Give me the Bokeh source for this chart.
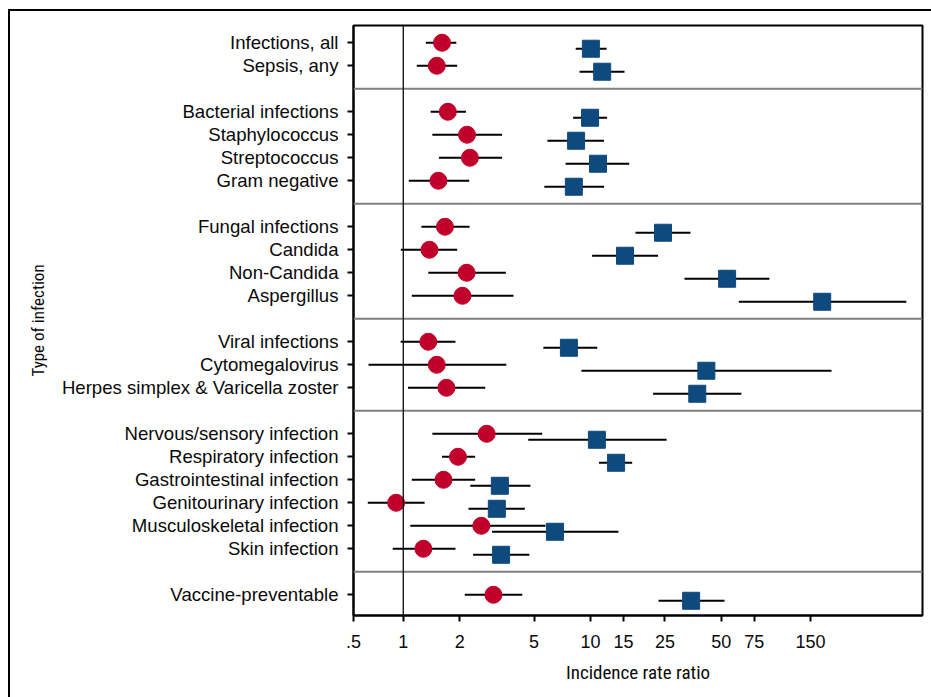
from bokeh.plotting import figure
from bokeh.models import Range1d, FixedTicker, Span
from bokeh.embed import file_html
from bokeh.resources import INLINE

# ---------------- data ----------------
groups = [
    ["Infections, all", "Sepsis, any"],
    ["Bacterial infections", "Staphylococcus", "Streptococcus", "Gram negative"],
    ["Fungal infections", "Candida", "Non-Candida", "Aspergillus"],
    ["Viral infections", "Cytomegalovirus", "Herpes simplex & Varicella zoster"],
    ["Nervous/sensory infection", "Respiratory infection", "Gastrointestinal infection",
     "Genitourinary infection", "Musculoskeletal infection", "Skin infection"],
    ["Vaccine-preventable"],
]

# red circles
circle_irr = [1.61, 1.51, 1.73, 2.19, 2.27, 1.54, 1.67, 1.38, 2.18, 2.07,
              1.36, 1.51, 1.70, 2.79, 1.96, 1.64, 0.916, 2.61, 1.28, 3.03]
circle_lo = [1.32, 1.18, 1.40, 1.43, 1.55, 1.07, 1.25, 0.97, 1.36, 1.11,
             0.968, 0.652, 1.06, 1.43, 1.61, 1.11, 0.646, 1.09, 0.878, 2.13]
circle_hi = [1.92, 1.94, 2.16, 3.37, 3.37, 2.25, 2.26, 1.94, 3.53, 3.88,
             1.90, 3.55, 2.74, 5.52, 2.42, 2.42, 1.30, 5.75, 1.90, 4.32]

# blue squares
square_irr = [10.05, 11.55, 9.95, 8.38, 10.97, 8.15, 24.4, 15.3, 53.7, 173,
              7.67, 41.6, 37.2, 10.82, 13.7, 3.28, 3.16, 6.46, 3.33, 34.5]
square_lo = [8.34, 8.74, 8.08, 5.89, 7.36, 5.67, 17.4, 10.2, 31.8, 62,
             5.60, 8.95, 21.6, 4.65, 11.1, 2.28, 2.23, 2.98, 2.36, 23.1]
square_hi = [12.2, 15.2, 12.27, 11.82, 16.1, 11.82, 34.2, 22.96, 90.3, 487,
             10.87, 194, 64.0, 25.5, 16.7, 4.78, 4.46, 14.1, 4.71, 52.0]

x_min, x_max = 0.542, 594
x_tick_values = [x_min, 1, 2, 5, 10, 15, 25, 50, 75, 150]
x_tick_labels = [".5", "1", "2", "5", "10", "15", "25", "50", "75", "150"]

# ---------------- layout of rows ----------------
labels, rows, separators = [], [], []
r = 0
for gi, g in enumerate(groups):
    for name in g:
        labels.append(name)
        rows.append(r)
        r += 1
    if gi < len(groups) - 1:
        separators.append(r)
        r += 1
offset = 0.26
rows_sq = [v + offset for v in rows]

RED = "#C0002A"
BLUE = "#0E4A7E"

p = figure(width=931, height=697, x_axis_type="log",
           x_range=Range1d(x_min, x_max), y_range=Range1d(24.9, -0.75),
           output_backend="svg", toolbar_location=None,
           min_border_left=353, min_border_right=9, min_border_top=25, min_border_bottom=82)

p.xgrid.visible = False
p.ygrid.visible = False
p.outline_line_color = "black"
p.outline_line_width = 2
p.background_fill_color = "white"
p.border_fill_color = None
# outer frame of the figure panel (top and left edges)
p.styles = {
    "background": "linear-gradient(#000, #000) 8px 9px / 2px calc(100% - 9px) no-repeat, "
                  "linear-gradient(#000, #000) 8px 9px / calc(100% - 8px) 2px no-repeat, #fff",
}

for s in separators:
    p.add_layout(Span(location=s, dimension="width", line_color="#808080", line_width=2))
p.add_layout(Span(location=1, dimension="height", line_color="#1a1a1a", line_width=1.4))

p.segment(x0=circle_lo, y0=rows, x1=circle_hi, y1=rows, line_color="black", line_width=2)
p.segment(x0=square_lo, y0=rows_sq, x1=square_hi, y1=rows_sq, line_color="black", line_width=2)
p.scatter(x=circle_irr, y=rows, marker="circle", size=17, fill_color=RED, line_color=RED)
p.scatter(x=square_irr, y=rows_sq, marker="square", size=17, fill_color=BLUE, line_color=BLUE)

# axes
ax = p.xaxis[0]
ax.ticker = FixedTicker(ticks=x_tick_values, minor_ticks=[])
ax.major_label_overrides = {v: l for v, l in zip(x_tick_values, x_tick_labels)}
ay = p.yaxis[0]
ay.ticker = FixedTicker(ticks=rows, minor_ticks=[])
ay.major_label_overrides = {rv: l for rv, l in zip(rows, labels)}

for a in (ax, ay):
    a.axis_line_color = "black"
    a.axis_line_width = 2
    a.major_tick_line_color = "black"
    a.major_tick_line_width = 2
    a.major_tick_out = 6
    a.major_tick_in = 0
    a.minor_tick_line_color = None
    a.major_label_text_font = "Liberation Sans"
    a.major_label_text_color = "#0a0a0a"
    a.axis_label_text_font_style = "normal"
    a.axis_label_text_color = "#0a0a0a"
    a.axis_label_text_font = "Liberation Sans Narrow, Roboto Condensed, DejaVu Sans Condensed, Liberation Sans"

ax.major_label_text_font_size = "18px"
ay.major_label_text_font_size = "18.6px"
ax.axis_label = "Incidence rate ratio"
ax.axis_label_text_font_size = "19px"
ax.major_label_standoff = 13
ax.axis_label_standoff = 10
ay.axis_label = "Type of infection"
ay.axis_label_text_font_size = "17px"
ay.major_label_standoff = 9
ay.axis_label_standoff = 11

open("out.html", "w").write(file_html(p, INLINE))
